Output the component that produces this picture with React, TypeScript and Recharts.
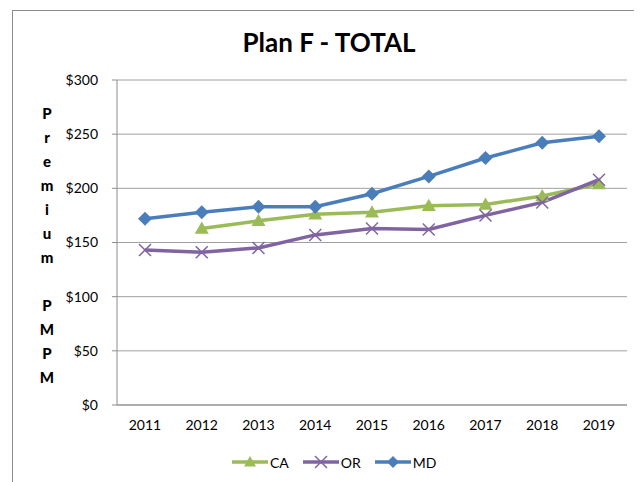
import React from 'react'
import { LineChart, Line, XAxis, YAxis, CartesianGrid } from 'recharts'

const years = ['2011', '2012', '2013', '2014', '2015', '2016', '2017', '2018', '2019']
const caValues = [null, 163, 170, 176, 178, 184, 185, 193, 204]
const orValues = [143, 141, 145, 157, 163, 162, 175, 187, 208]
const mdValues = [172, 178, 183, 183, 195, 211, 228, 242, 248]
const yTicks = [0, 50, 100, 150, 200, 250, 300]
const yLabel = ['P', 'r', 'e', 'm', 'i', 'u', 'm', '', 'P', 'M', 'P', 'M']

const GREEN = '#9bbb59'
const PURPLE = '#8064a2'
const BLUE = '#4a7ebb'
const FONT = 'Lato, "Open Sans", sans-serif'

const data = years.map((year, i) => ({
  year,
  CA: caValues[i],
  OR: orValues[i],
  MD: mdValues[i]
}))

const Diamond = ({ cx, cy, s = 7 }: any) => (
  <polygon points={`${cx},${cy - s} ${cx + s},${cy} ${cx},${cy + s} ${cx - s},${cy}`} fill={BLUE} />
)

const Triangle = ({ cx, cy, s = 7 }: any) => (
  <polygon points={`${cx},${cy - s} ${cx + s},${cy + s * 0.75} ${cx - s},${cy + s * 0.75}`} fill={GREEN} />
)

const Cross = ({ cx, cy, s = 6 }: any) => (
  <g stroke={PURPLE} strokeWidth={1.5}>
    <line x1={cx - s} y1={cy - s} x2={cx + s} y2={cy + s} />
    <line x1={cx - s} y1={cy + s} x2={cx + s} y2={cy - s} />
  </g>
)

const dotFor = (Shape: any) => (props: any) => {
  if (props.value == null || props.cy == null) return <g key={props.index} />
  return <Shape key={props.index} cx={props.cx} cy={props.cy} />
}

const series = [
  { key: 'CA', color: GREEN, shape: Triangle },
  { key: 'OR', color: PURPLE, shape: Cross },
  { key: 'MD', color: BLUE, shape: Diamond }
]

const App: React.FC = () => {
  return (
    <div style={{ position: 'relative', width: 634, height: 474, overflow: 'hidden', fontFamily: FONT }}>
      <div
        style={{
          position: 'absolute',
          left: 4,
          top: 2,
          width: 660,
          height: 500,
          border: '1px solid #8c8c8c',
          boxSizing: 'border-box'
        }}
      />
      <div
        style={{
          position: 'absolute',
          left: 0,
          width: 642,
          top: 18,
          textAlign: 'center',
          fontSize: 26,
          fontWeight: 'bold',
          color: '#000'
        }}
      >
        Plan F - TOTAL
      </div>
      <div
        style={{
          position: 'absolute',
          left: 29,
          top: 93,
          width: 20,
          textAlign: 'center',
          fontSize: 15,
          fontWeight: 900,
          lineHeight: '24px'
        }}
      >
        {yLabel.map((c, i) => (
          <div key={i} style={{ height: 24 }}>
            {c}
          </div>
        ))}
      </div>
      <div style={{ position: 'absolute', left: 0, top: 0 }}>
        <LineChart width={634} height={474} data={data} margin={{ top: 72, right: 15, bottom: 47, left: 49 }}>
          <CartesianGrid vertical={false} stroke="#a0a0a0" />
          <XAxis
            dataKey="year"
            axisLine={{ stroke: '#8c8c8c' }}
            tickLine={false}
            tickSize={0}
            tickMargin={15}
            height={30}
            padding={{ left: 28, right: 28 }}
            tick={{ fill: '#000', fontSize: 14, fontFamily: FONT }}
          />
          <YAxis
            domain={[0, 300]}
            ticks={yTicks}
            width={60}
            tickFormatter={(v) => `$${v}`}
            axisLine={{ stroke: '#8c8c8c' }}
            tickLine={{ stroke: '#8c8c8c' }}
            tickSize={5}
            tickMargin={14}
            tick={{ fill: '#000', fontSize: 14, fontFamily: FONT }}
          />
          {series.map((s) => (
            <Line
              key={s.key}
              dataKey={s.key}
              stroke={s.color}
              strokeWidth={3.5}
              dot={dotFor(s.shape)}
              activeDot={false}
              isAnimationActive={false}
              connectNulls={false}
            />
          ))}
        </LineChart>
      </div>
      <div
        style={{
          position: 'absolute',
          top: 444,
          left: 224,
          display: 'flex',
          alignItems: 'center',
          fontSize: 14,
          color: '#000'
        }}
      >
        {series.map((s) => {
          const Shape = s.shape
          return (
            <div key={s.key} style={{ display: 'flex', alignItems: 'center', marginRight: 14 }}>
              <svg width={36} height={20}>
                <line x1={0} y1={10} x2={36} y2={10} stroke={s.color} strokeWidth={3.5} />
                <Shape cx={18} cy={10} s={6} />
              </svg>
              <span style={{ marginLeft: 2 }}>{s.key}</span>
            </div>
          )
        })}
      </div>
    </div>
  )
}

export default App
